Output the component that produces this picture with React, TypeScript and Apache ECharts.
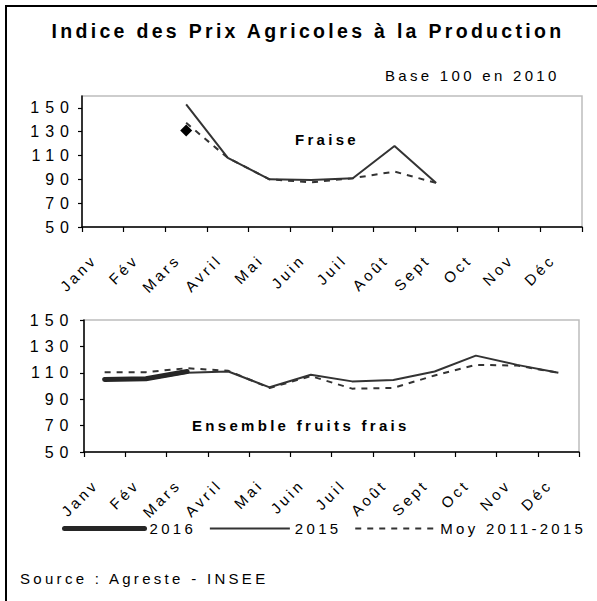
import React, { useEffect, useRef } from 'react';
import * as echarts from 'echarts';

const months = ['Janv', 'Fév', 'Mars', 'Avril', 'Mai', 'Juin', 'Juil', 'Août', 'Sept', 'Oct', 'Nov', 'Déc'];
const seriesNames = ['2016', '2015', 'Moy 2011-2015'];

// Fraise
const fraise2016 = [null, null, 131, null, null, null, null, null, null, null, null, null];
const fraise2015 = [null, null, 153, 108, 90, 89.5, 91, 118, 87, null, null, null];
const fraiseMoy = [null, null, 137.5, 108, 90, 87.5, 91, 96.5, 87, null, null, null];

// Ensemble fruits frais
const fruits2016 = [105, 105.5, 111, null, null, null, null, null, null, null, null, null];
const fruits2015 = [105, 105, 110, 111, 99, 108.5, 103.5, 104.5, 111, 123, 116, 110];
const fruitsMoy = [110.5, 110.5, 113.5, 111.5, 98.5, 107.5, 98, 98.5, 108, 116, 115.5, 110];

const FONT = "'Liberation Sans', Arial, sans-serif";
const FONT_Y = "'Liberation Sans', Arial, yls, sans-serif";
const LINE = '#333333';

export default function App() {
  const ref = useRef<HTMLDivElement>(null);
  useEffect(() => {
    if (!ref.current) return;
    const chart = echarts.init(ref.current, undefined, { renderer: 'svg' });

    const plotGrid = (left: number, top: number, width: number, height: number) => ({
      left, top, width, height, show: true, borderColor: '#bdbdbd', borderWidth: 1.5,
      backgroundColor: 'transparent', outerBoundsMode: 'none', containLabel: false,
    });
    const labelGrid = (left: number, top: number, width: number, height: number) => ({
      left, top, width, height, show: false, outerBoundsMode: 'none', containLabel: false,
    });

    const plotX = (gi: number) => ({
      type: 'category', gridIndex: gi, data: months, boundaryGap: true,
      axisLine: { show: true, lineStyle: { color: '#000', width: 1.5 } },
      axisTick: { show: true, length: 5, lineStyle: { color: '#000', width: 1.2 } },
      axisLabel: { show: false },
      splitLine: { show: false },
    });
    const labelX = (gi: number) => ({
      type: 'category', gridIndex: gi, data: months, boundaryGap: true,
      axisLine: { show: false }, axisTick: { show: false }, splitLine: { show: false },
      axisLabel: { show: true, rotate: 45, margin: 30, fontSize: 15, color: '#000', fontFamily: FONT, interval: 0 },
    });
    const plotY = (gi: number, max: number, margin: number) => ({
      type: 'value', gridIndex: gi, min: 50, max, interval: 20,
      axisLine: { show: true, lineStyle: { color: '#000', width: 1.5 } },
      axisTick: { show: true, length: 4, lineStyle: { color: '#000', width: 1.2 } },
      axisLabel: { show: true, fontSize: 16, color: '#000', fontFamily: FONT_Y, margin, showMaxLabel: max === 150 },
      splitLine: { show: false },
    });
    const hiddenY = (gi: number) => ({ type: 'value', gridIndex: gi, show: false, min: 0, max: 1 });

    const styles: any = {
      '2016': { lineStyle: { color: '#262626', width: 5, cap: 'round', join: 'round' }, itemStyle: { color: '#262626' }, z: 4 },
      '2015': { lineStyle: { color: LINE, width: 2 }, itemStyle: { color: LINE }, z: 2 },
      'Moy 2011-2015': { lineStyle: { color: LINE, width: 2, type: [6, 6] }, itemStyle: { color: LINE }, z: 3 },
    };
    const mk = (name: string, data: any[], axis: number, extra: any = {}) => ({
      type: 'line', name, data, xAxisIndex: axis, yAxisIndex: axis,
      symbol: 'none', connectNulls: false, silent: true,
      ...styles[name], ...extra,
    });

    chart.setOption({
      animation: false,
      backgroundColor: '#fff',
      textStyle: { fontFamily: FONT, color: '#000' },
      grid: [
        plotGrid(82, 96, 500, 131),
        plotGrid(84, 320, 495, 132),
        labelGrid(73.5, 96, 500, 131),
        labelGrid(75, 320, 495, 132),
      ],
      xAxis: [plotX(0), plotX(1), labelX(2), labelX(3)],
      yAxis: [plotY(0, 160, 7), plotY(1, 150, 9.5), hiddenY(2), hiddenY(3)],
      legend: {
        data: seriesNames, left: 57, top: 516, itemWidth: 80, itemHeight: 14, itemGap: 26,
        selectedMode: false, textStyle: { fontSize: 15, color: '#000', fontFamily: FONT },
        itemStyle: { color: 'rgba(0,0,0,0)', borderColor: 'rgba(0,0,0,0)', borderWidth: 0 },
        lineStyle: { width: 'inherit', type: 'inherit', color: 'inherit', cap: 'inherit' },
      },
      series: [
        mk('2016', fruits2016, 1),
        mk('2015', fruits2015, 1),
        mk('Moy 2011-2015', fruitsMoy, 1),
        mk('2016', fraise2016, 0, {
          symbol: 'diamond', symbolSize: 12, showSymbol: true, showAllSymbol: true,
          itemStyle: { color: '#000' }, lineStyle: { width: 0 },
        }),
        mk('2015', fraise2015, 0),
        mk('Moy 2011-2015', fraiseMoy, 0),
      ],
      graphic: [
        { type: 'rect', shape: { x: 6, y: 6, width: 700, height: 700 }, style: { fill: 'none', stroke: '#000', lineWidth: 2 }, silent: true },
        { type: 'text', x: 308, y: 31, style: { text: 'Indice des Prix Agricoles à la Production', fontSize: 19.5, fontWeight: 'bold', fontFamily: FONT, fill: '#000', textAlign: 'center', verticalAlign: 'middle' } },
        { type: 'text', x: 385, y: 75, style: { text: 'Base 100 en 2010', fontSize: 15, fontFamily: FONT, fill: '#000', textAlign: 'left', verticalAlign: 'middle' } },
        { type: 'text', x: 295, y: 139, style: { text: 'Fraise', fontSize: 15, fontWeight: 'bold', fontFamily: FONT, fill: '#000', textAlign: 'left', verticalAlign: 'middle' } },
        { type: 'text', x: 192, y: 425, style: { text: 'Ensemble fruits frais', fontSize: 15, fontWeight: 'bold', fontFamily: FONT, fill: '#000', textAlign: 'left', verticalAlign: 'middle' } },
        { type: 'text', x: 20, y: 578, style: { text: 'Source : Agreste - INSEE', fontSize: 15, fontFamily: FONT, fill: '#000', textAlign: 'left', verticalAlign: 'middle' } },
      ],
    } as any);
    return () => chart.dispose();
  }, []);

  return (
    <>
      <style>{'#chart text { letter-spacing: 3.3px; } #chart text[style*="yls"] { letter-spacing: 6px; }'}</style>
      <div id="chart" ref={ref} style={{ position: 'absolute', left: 0, top: 0, width: 597, height: 601 }} />
    </>
  );
}
